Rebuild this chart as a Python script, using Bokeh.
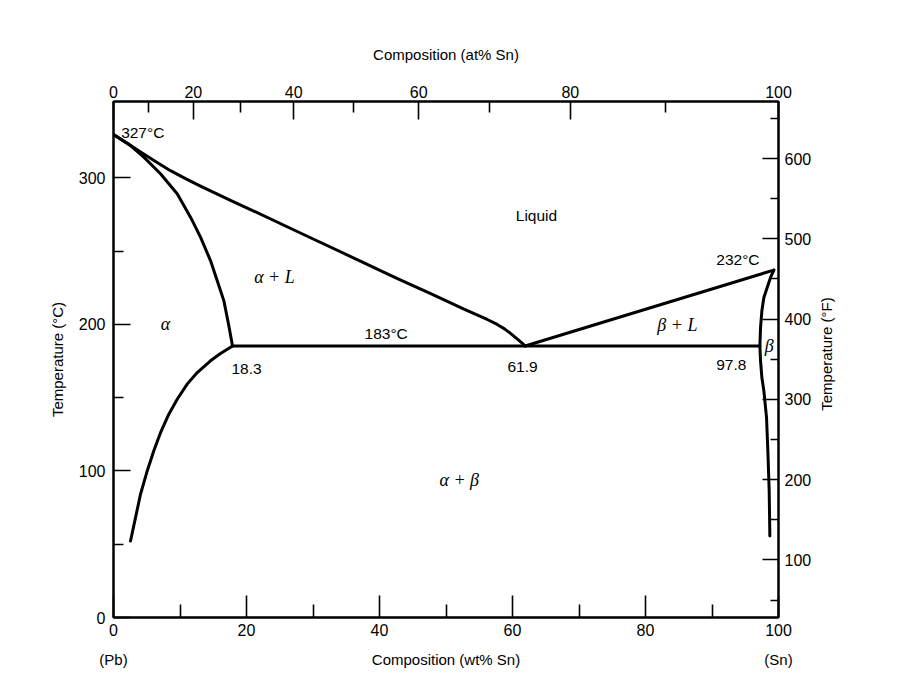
import math
from bokeh.plotting import figure
from bokeh.models import Range1d, LinearAxis, FixedTicker, ColumnDataSource
from bokeh.core.properties import value
from bokeh.embed import file_html
from bokeh.resources import INLINE

# ---------------- data ----------------
# left liquidus: Pb melting point -> eutectic
liq_left_wt = [0, 1.8, 4.07, 6.32, 8.57, 10.83, 13.08, 17.59, 20.6, 28.1, 35.6, 42.7, 47.7, 52.7, 56.2, 57.7, 58.8, 59.7, 61.5, 61.9]
liq_left_T = [329.4, 324.3, 317.5, 311.0, 304.8, 299.4, 294.3, 284.6, 278.3, 262.3, 246.4, 231.2, 220.9, 210.4, 203.3, 199.9, 196.9, 193.8, 187.0, 185.2]
# left solidus (alpha / alpha+L)
sol_left_wt = [0, 2.6, 4.6, 7.1, 9.6, 11.6, 13.1, 14.6, 15.6, 16.6, 17.3, 17.9]
sol_left_T = [329.4, 321.8, 313.9, 302.5, 288.9, 272.9, 259.3, 243.3, 229.7, 216.0, 200.1, 185.2]
# left solvus (alpha / alpha+beta)
solv_left_wt = [17.9, 16.09, 14.59, 12.59, 11.08, 9.58, 8.32, 7.07, 6.06, 5.07, 4.06, 3.31, 2.56]
solv_left_T = [185.2, 180.1, 175.1, 167.1, 159.2, 148.9, 138.7, 126.1, 113.7, 100.0, 84.1, 68.1, 52.2]
# eutectic isotherm
eut_wt = [17.9, 97.2]
eut_T = [185.2, 185.2]
# right liquidus: eutectic -> Sn melting point
liq_right_wt = [61.9, 80.5, 99.3]
liq_right_T = [185.2, 211.0, 237.0]
# right solidus (beta / beta+L)
sol_right_wt = [99.3, 98.8, 98.3, 97.8, 97.5, 97.3, 97.2]
sol_right_T = [237.0, 232.0, 225.1, 218.3, 209.2, 197.8, 185.2]
# right solvus (beta / alpha+beta)
solv_right_wt = [97.2, 97.3, 97.5, 97.8, 98.2, 98.4, 98.6, 98.7]
solv_right_T = [185.2, 175.1, 163.7, 154.6, 136.4, 113.7, 86.3, 55.6]

# annotations (plain)
ann_text = ["327°C", "Liquid", "183°C", "18.3", "61.9", "232°C", "97.8"]
ann_wt = [4.4, 63.6, 41.0, 20.0, 61.5, 93.9, 92.9]
ann_T = [330.7, 274.1, 193.5, 169.6, 171.0, 244.0, 172.4]
# annotations (phase names, italic serif)
phase_text = ["α + L", "α", "β + L", "β", "α + β"]
phase_wt = [24.2, 7.8, 84.8, 98.6, 52.0]
phase_T = [232.4, 200.3, 199.5, 185.5, 93.9]

# axes ticks
wt_major = [0, 20, 40, 60, 80, 100]
wt_minor = [10, 30, 50, 70, 90]
tc_major = [0, 100, 200, 300]
tc_minor = [50, 150, 250]
tf_major = [100, 200, 300, 400, 500, 600]
tf_minor = [50, 150, 250, 350, 450, 550, 650]
# at% Sn scale (top) -- positions on the wt% scale
at_major_labels = ["0", "20", "40", "60", "80", "100"]
at_major_pos = [0, 12.0, 27.1, 45.9, 68.7, 100]
at_minor_pos = [5.3, 19.1, 36.1, 56.5, 83.0]
# bottom caption row
caption_pos = [0, 50, 100]
caption_text = ["(Pb)", "Composition (wt% Sn)", "(Sn)"]

FONT = "Liberation Sans"

p = figure(width=910, height=692, output_backend="svg", toolbar_location=None,
           x_range=Range1d(0, 100), y_range=Range1d(0, 352),
           x_axis_type=None, y_axis_type=None,
           min_border_left=113, min_border_right=132, min_border_top=101, min_border_bottom=75)
p.extra_y_ranges = {"F": Range1d(28.3, 671.1)}
p.background_fill_color = "white"
p.border_fill_color = "white"
p.outline_line_color = "black"
p.outline_line_width = 2


def style(ax, tin, tmin, standoff):
    ax.major_tick_in = tin
    ax.major_tick_out = 0
    ax.minor_tick_in = tmin
    ax.minor_tick_out = 0
    ax.major_tick_line_width = 1.6
    ax.minor_tick_line_width = 1.6
    ax.major_tick_line_color = "black"
    ax.minor_tick_line_color = "black"
    ax.axis_line_width = 2
    ax.axis_line_color = "black"
    ax.major_label_text_font = FONT
    ax.major_label_text_font_size = "16px"
    ax.major_label_text_color = "black"
    ax.major_label_standoff = standoff
    ax.axis_label_text_font = FONT
    ax.axis_label_text_font_size = "15px"
    ax.axis_label_text_font_style = "normal"
    ax.axis_label_text_color = "black"


bottom = LinearAxis(ticker=FixedTicker(ticks=wt_major, minor_ticks=wt_minor))
style(bottom, 22, 13, 6)
p.add_layout(bottom, "below")

# second row below: (Pb)  Composition (wt% Sn)  (Sn)
caption = LinearAxis(ticker=FixedTicker(ticks=caption_pos, minor_ticks=[]))
caption.major_label_overrides = {float(k): v for k, v in zip(caption_pos, caption_text)}
style(caption, 0, 0, 12)
caption.axis_line_color = None
caption.major_tick_line_color = None
caption.minor_tick_line_color = None
caption.major_label_text_font_size = "15px"
p.add_layout(caption, "below")

left = LinearAxis(ticker=FixedTicker(ticks=tc_major, minor_ticks=tc_minor),
                  axis_label="Temperature (°C)")
style(left, 17, 10, 8)
left.axis_label_standoff = 10
p.add_layout(left, "left")

top = LinearAxis(ticker=FixedTicker(ticks=at_major_pos, minor_ticks=at_minor_pos),
                 axis_label="Composition (at% Sn)")
top.major_label_overrides = {float(k): v for k, v in zip(at_major_pos, at_major_labels)}
style(top, 18, 11, 4)
top.axis_label_standoff = 20
p.add_layout(top, "above")

right = LinearAxis(y_range_name="F", ticker=FixedTicker(ticks=tf_major, minor_ticks=tf_minor))
style(right, 16, 8, 6)
p.add_layout(right, "right")

# title of the °F scale (reads bottom to top), drawn as a rotated tick label
title_pos = 285.8
right_title = LinearAxis(y_range_name="F", ticker=FixedTicker(ticks=[title_pos], minor_ticks=[]))
right_title.major_label_overrides = {title_pos: "Temperature (°F)"}
style(right_title, 0, 0, 12)
right_title.axis_line_color = None
right_title.major_tick_line_color = None
right_title.major_label_text_font_size = "15px"
right_title.major_label_orientation = math.pi / 2
p.add_layout(right_title, "right")

curves = [
    (liq_left_wt, liq_left_T), (sol_left_wt, sol_left_T), (solv_left_wt, solv_left_T),
    (eut_wt, eut_T), (liq_right_wt, liq_right_T), (sol_right_wt, sol_right_T),
    (solv_right_wt, solv_right_T),
]
for xs, ys in curves:
    p.line(xs, ys, line_color="black", line_width=3, line_join="round", line_cap="round")

src = ColumnDataSource(dict(x=ann_wt, y=ann_T, t=ann_text))
p.text("x", "y", text="t", source=src, text_font=value(FONT), text_font_size="15.5px",
       text_align="center", text_baseline="middle", text_color="black")
src2 = ColumnDataSource(dict(x=phase_wt, y=phase_T, t=phase_text))
p.text("x", "y", text="t", source=src2, text_font=value("Liberation Serif"), text_font_size="18px",
       text_font_style="italic", text_align="center", text_baseline="middle", text_color="black")

open("out.html", "w").write(file_html(p, INLINE))
